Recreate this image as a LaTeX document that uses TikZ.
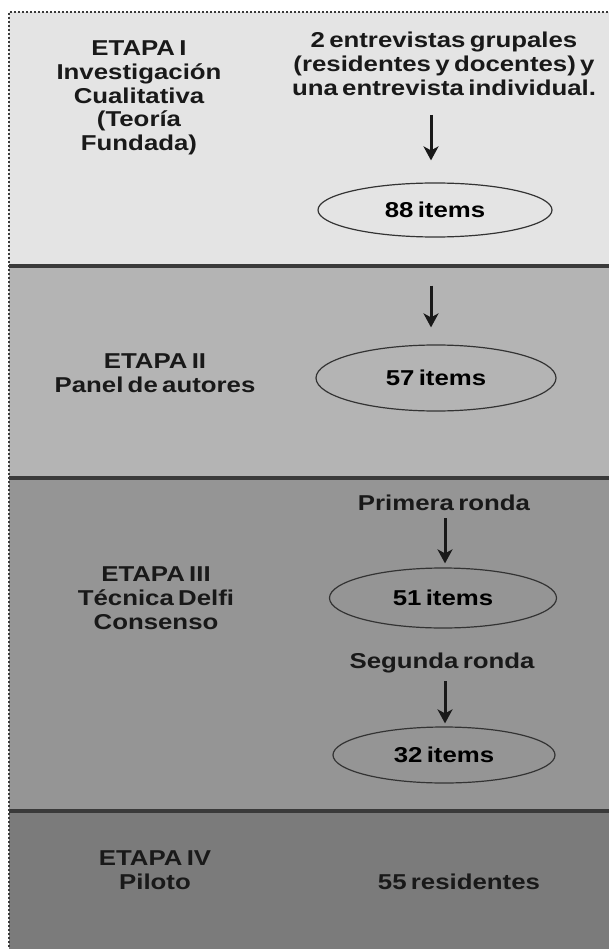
\documentclass[tikz,border=0pt]{standalone}
\usepackage{fontspec}
\setmainfont{Liberation Sans}[FakeStretch=1.2, WordSpace=0.6]
\usetikzlibrary{arrows.meta}
\usetikzlibrary{positioning}
\usetikzlibrary{shapes.geometric}

\definecolor{etapaA}{HTML}{E4E4E4}
\definecolor{etapaB}{HTML}{B4B4B4}
\definecolor{etapaC}{HTML}{959595}
\definecolor{etapaD}{HTML}{7B7B7B}
\definecolor{borde}{HTML}{3A3A3A}

\begin{document}
\begin{tikzpicture}[x=1pt,y=-1pt,>={Stealth[length=14pt,width=15pt,inset=4pt]},
        txt/.style={font=\bfseries\fontsize{21.5}{23.8}\selectfont, align=center, inner sep=0pt, text=black!90},
        itembox/.style={ellipse, draw=black!80, line width=1.2pt, inner sep=0pt, font=\bfseries\fontsize{21.5}{23.8}\selectfont},
        flecha/.style={->, line width=3pt, black!90}]
        \useasboundingbox (0,0) rectangle (609,949);

        % bandas
        \fill[etapaA] (9,12) rectangle (615,266);
        \fill[etapaB] (9,266) rectangle (615,478);
        \fill[etapaC] (9,478) rectangle (615,811);
        \fill[etapaD] (9,811) rectangle (615,955);
        \draw[borde, line width=3.5pt] (9,266) -- (615,266);
        \draw[borde, line width=3.5pt] (9,478) -- (615,478);
        \draw[borde, line width=3.5pt] (9,811) -- (615,811);
        \draw[borde, line width=2pt, dash pattern=on 2pt off 2pt] (9,955) -- (9,12) -- (615,12);

        % etapa I
        \node[txt] (e1) at (139,98) {ETAPA I\\Investigación\\Cualitativa\\(Teoría\\Fundada)};
        \node[txt] (ent) at (444,64) {2 entrevistas grupales\\(residentes y docentes) y\\una entrevista individual.};
        \node[itembox, minimum width=234pt, minimum height=54pt] (i88) at (435,210) {88 items};
        \draw[flecha, shorten <=19pt, shorten >=22pt] (ent.south -| 431,0) -- (i88.north -| 431,0);

        % etapa II
        \node[txt] (e2) at (155,373) {ETAPA II\\Panel de autores};
        \node[itembox, minimum width=240pt, minimum height=66pt] (i57) at (436,378) {57 items};
        \draw[flecha, shorten <=48pt, shorten >=17pt] (i88.south -| 431,0) -- (i57.north -| 431,0);

        % etapa III
        \node[txt] (e3) at (156,598) {ETAPA III\\Técnica Delfi\\Consenso};
        \node[txt] (r1) at (444,503) {Primera ronda};
        \node[itembox, minimum width=227pt, minimum height=60pt] (i51) at (443,598) {51 items};
        \draw[flecha, shorten <=7pt, shorten >=4pt] (r1.south -| 445,0) -- (i51.north -| 445,0);
        \node[txt] (r2) at (442,663) {Segunda ronda};
        \node[itembox, minimum width=222pt, minimum height=56pt] (i32) at (444,755) {32 items};
        \draw[flecha, shorten <=8pt, shorten >=3pt] (r2.south -| 445,0) -- (i32.north -| 445,0);

        % etapa IV
        \node[txt] (e4) at (155,870) {ETAPA IV\\Piloto};
        \node[txt] (res) at (459,882) {55 residentes};
    \end{tikzpicture}
\end{document}
